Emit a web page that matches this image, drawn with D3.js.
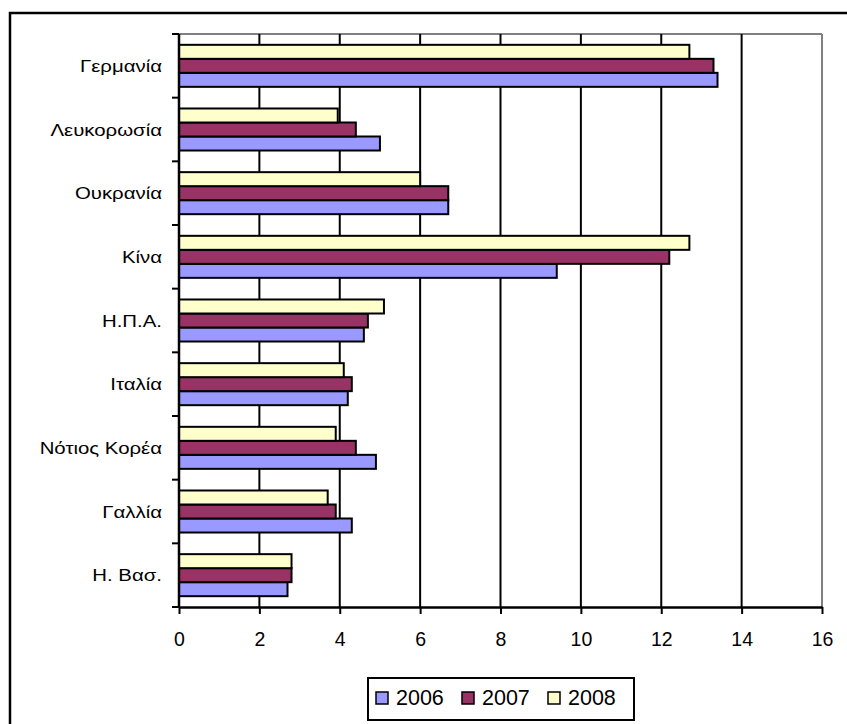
<!DOCTYPE html>
<html lang="el">
<head>
    <meta charset="UTF-8">
    <title>Chart</title>
    <script src="https://d3js.org/d3.v7.min.js"></script>
    <style>
        body { margin: 0; background: #ffffff; }
        svg { display: block; font-family: 'Liberation Sans', Arial, sans-serif; }
    </style>
</head>
<body>
    <svg width="847" height="724"></svg>

    <script>
        // data
        const countries = ["Γερμανία", "Λευκορωσία", "Ουκρανία", "Κίνα", "Η.Π.Α.", "Ιταλία", "Νότιος Κορέα", "Γαλλία", "Η. Βασ."];
        const years = ["2006", "2007", "2008"];
        const values2006 = [13.4, 5.0, 6.7, 9.4, 4.6, 4.2, 4.9, 4.3, 2.7];
        const values2007 = [13.3, 4.4, 6.7, 12.2, 4.7, 4.3, 4.4, 3.9, 2.8];
        const values2008 = [12.7, 3.95, 6.0, 12.7, 5.1, 4.1, 3.9, 3.7, 2.8];
        const xTicks = [0, 2, 4, 6, 8, 10, 12, 14, 16];
        const colors = ["#9999FF", "#993366", "#FFFFCC"];

        const seriesValues = { "2006": values2006, "2007": values2007, "2008": values2008 };

        const plotLeft = 179, plotRight = 822, plotTop = 34, plotBottom = 607;

        const svg = d3.select("svg");

        // outer frame (runs off the picture on the right and bottom)
        svg.append("rect")
            .attr("x", 10).attr("y", 13)
            .attr("width", 900).attr("height", 800)
            .attr("fill", "none")
            .attr("stroke", "#000")
            .attr("stroke-width", 2.5);

        const x = d3.scaleLinear().domain([0, 16]).range([plotLeft, plotRight]);
        const y = d3.scaleBand().domain(countries).range([plotTop, plotBottom])
            .paddingInner(0.34).paddingOuter(0.17);
        // top bar is 2008, bottom is 2006
        const yInner = d3.scaleBand().domain(["2008", "2007", "2006"]).range([0, y.bandwidth()]);
        const color = d3.scaleOrdinal().domain(years).range(colors);

        // plot area border: grey top and right
        svg.append("line")
            .attr("x1", plotLeft).attr("x2", plotRight).attr("y1", plotTop).attr("y2", plotTop)
            .attr("stroke", "#808080").attr("stroke-width", 2);
        svg.append("line")
            .attr("x1", plotRight).attr("x2", plotRight).attr("y1", plotTop).attr("y2", plotBottom)
            .attr("stroke", "#808080").attr("stroke-width", 2);

        // vertical gridlines
        svg.append("g")
            .selectAll("line")
            .data(xTicks.filter(d => d > 0 && d < 16))
            .enter()
            .append("line")
            .attr("x1", d => x(d)).attr("x2", d => x(d))
            .attr("y1", plotTop).attr("y2", plotBottom)
            .attr("stroke", "#000").attr("stroke-width", 2);

        // bars
        const rows = countries.map((c, i) => ({ country: c, i }));
        const groups = svg.append("g")
            .selectAll("g")
            .data(rows)
            .enter()
            .append("g")
            .attr("transform", d => `translate(0,${y(d.country)})`);

        groups.selectAll("rect")
            .data(d => years.map(yr => ({ year: yr, value: seriesValues[yr][d.i] })))
            .enter()
            .append("rect")
            .attr("x", x(0))
            .attr("y", d => yInner(d.year))
            .attr("width", d => x(d.value) - x(0))
            .attr("height", yInner.bandwidth())
            .attr("fill", d => color(d.year))
            .attr("stroke", "#000")
            .attr("stroke-width", 2);

        // x axis
        const xAxis = svg.append("g")
            .attr("transform", `translate(0,${plotBottom})`)
            .call(d3.axisBottom(x).tickValues(xTicks).tickSize(7).tickSizeOuter(0).tickPadding(18));
        xAxis.select(".domain").attr("stroke", "#000").attr("stroke-width", 2.5);
        xAxis.selectAll(".tick line").attr("stroke", "#000").attr("stroke-width", 2);
        xAxis.selectAll(".tick text")
            .attr("font-size", 19.5)
            .attr("font-family", "'Liberation Sans', Arial, sans-serif")
            .attr("fill", "#000");

        // y axis: ticks sit between categories
        const step = y.step();
        const boundaries = d3.range(countries.length + 1).map(k => plotTop + k * step);
        svg.append("line")
            .attr("x1", plotLeft).attr("x2", plotLeft).attr("y1", plotTop).attr("y2", plotBottom)
            .attr("stroke", "#000").attr("stroke-width", 2.5);
        svg.append("g")
            .selectAll("line")
            .data(boundaries)
            .enter()
            .append("line")
            .attr("x1", plotLeft - 7).attr("x2", plotLeft)
            .attr("y1", d => d).attr("y2", d => d)
            .attr("stroke", "#000").attr("stroke-width", 2);

        // category labels
        svg.append("g")
            .selectAll("text")
            .data(countries)
            .enter()
            .append("text")
            .attr("transform", d => `translate(162,${y(d) + y.bandwidth() / 2 + 6}) scale(1.2,1)`)
            .attr("text-anchor", "end")
            .attr("font-size", 17)
            .attr("fill", "#000")
            .text(d => d);

        // legend
        const legend = svg.append("g");
        legend.append("rect")
            .attr("x", 368).attr("y", 678)
            .attr("width", 266).attr("height", 42)
            .attr("fill", "#fff")
            .attr("stroke", "#000")
            .attr("stroke-width", 2);

        const items = legend.selectAll("g")
            .data(years)
            .enter()
            .append("g")
            .attr("transform", (d, i) => `translate(${376 + i * 86},692)`);
        items.append("rect")
            .attr("width", 12).attr("height", 12)
            .attr("fill", d => color(d))
            .attr("stroke", "#000")
            .attr("stroke-width", 1.5);
        items.append("text")
            .attr("x", 20).attr("y", 13)
            .attr("font-size", 21.5)
            .attr("fill", "#000")
            .text(d => d);
    </script>
</body>
</html>
